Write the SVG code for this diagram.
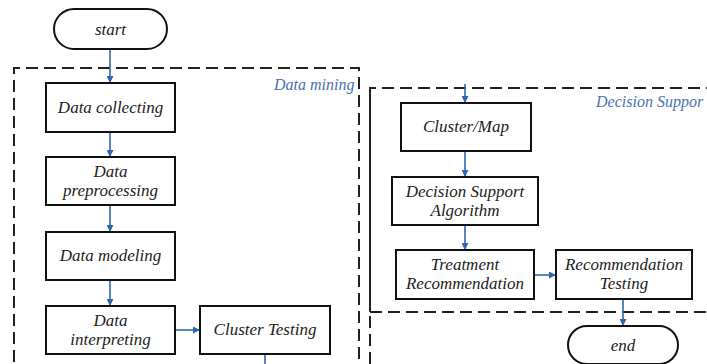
<svg xmlns="http://www.w3.org/2000/svg" width="707" height="364" viewBox="0 0 707 364">
<style>
.box{fill:#fff;stroke:#111;stroke-width:2}
.grp{fill:none;stroke:#222;stroke-width:2;stroke-dasharray:12 6}
.t{font-family:"Liberation Serif","Times New Roman",serif;font-style:italic;font-size:17px;fill:#222;text-anchor:middle}
.lbl{font-family:"Liberation Serif","Times New Roman",serif;font-style:italic;font-size:16px;fill:#4a72b0}
.c{fill:none;stroke:#2f66b0;stroke-width:1.6;marker-end:url(#ah)}
.l{fill:none;stroke:#2f66b0;stroke-width:1.6}
</style>
<defs>
<marker id="ah" viewBox="0 0 10 10" refX="10" refY="5" markerWidth="7" markerHeight="7" markerUnits="userSpaceOnUse" orient="auto">
<path d="M0,0 L10,5 L0,10 z" fill="#2f66b0"/>
</marker>
</defs>
<rect width="707" height="364" fill="#fff"/>
<g id="groups">
<path class="grp" d="M14,362 V68 H359 V364"/>
<text class="lbl" x="274" y="90">Data mining</text>
<path class="grp" d="M370,364 V88 H707 M370,312 H707"/>
<path class="grp" d="M370,88 V312"/>
<text class="lbl" x="596" y="107">Decision Suppor</text>
</g>
<g id="connectors">
<path class="c" d="M110,49 V83"/>
<path class="c" d="M110,132 V157"/>
<path class="c" d="M110,205 V232"/>
<path class="c" d="M110,280 V306"/>
<path class="c" d="M175,330 H200"/>
<path class="l" d="M265,354 V364"/>
<path class="c" d="M465,84 V103"/>
<path class="c" d="M465,151 V177"/>
<path class="c" d="M465,225 V250"/>
<path class="c" d="M534,275 H556"/>
<path class="c" d="M623,299 V326"/>
</g>
<g id="start"><rect class="box" x="54" y="9" width="113" height="40" rx="20"/><text class="t" x="110.5" y="35">start</text></g>
<g id="data-collecting"><rect class="box" x="46" y="83" width="129" height="49"/><text class="t" x="110.5" y="113">Data collecting</text></g>
<g id="data-preprocessing"><rect class="box" x="46" y="157" width="129" height="48"/><text class="t" x="110.5" y="177">Data</text><text class="t" x="110.5" y="196">preprocessing</text></g>
<g id="data-modeling"><rect class="box" x="46" y="232" width="129" height="48"/><text class="t" x="110.5" y="261">Data modeling</text></g>
<g id="data-interpreting"><rect class="box" x="46" y="306" width="129" height="48"/><text class="t" x="110.5" y="326">Data</text><text class="t" x="110.5" y="345">interpreting</text></g>
<g id="cluster-testing"><rect class="box" x="200" y="306" width="130" height="48"/><text class="t" x="265" y="335">Cluster Testing</text></g>
<g id="cluster-map"><rect class="box" x="401" y="103" width="130" height="48"/><text class="t" x="466" y="132">Cluster/Map</text></g>
<g id="decision-support-algorithm"><rect class="box" x="392" y="177" width="146" height="48"/><text class="t" x="465" y="197">Decision Support</text><text class="t" x="465" y="216">Algorithm</text></g>
<g id="treatment-recommendation"><rect class="box" x="396" y="250" width="138" height="49"/><text class="t" x="465" y="270">Treatment</text><text class="t" x="465" y="289">Recommendation</text></g>
<g id="recommendation-testing"><rect class="box" x="556" y="250" width="136" height="49"/><text class="t" x="624" y="270">Recommendation</text><text class="t" x="624" y="289">Testing</text></g>
<g id="end"><rect class="box" x="568" y="326" width="110" height="38" rx="19"/><text class="t" x="623" y="351">end</text></g>
</svg>
